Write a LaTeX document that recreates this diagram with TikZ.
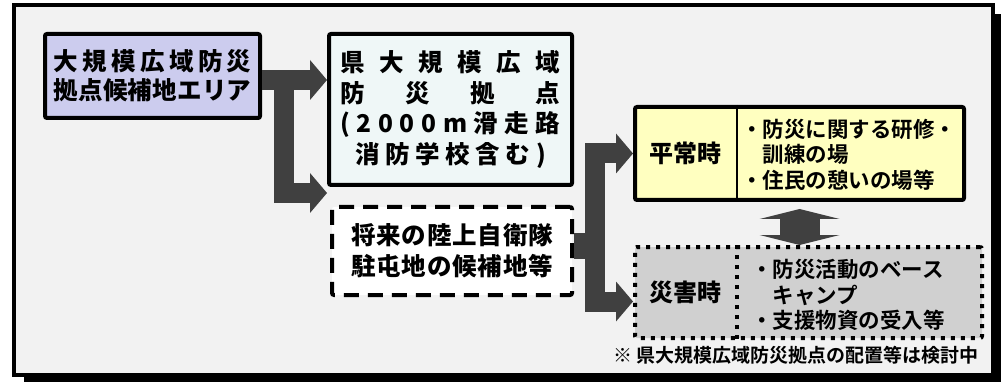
\documentclass[tikz,border=0pt]{standalone}
\usepackage{fontspec}
\usepackage{tikz}
\usetikzlibrary{arrows.meta,calc}
\newfontfamily\jpheavy{Noto Sans CJK JP Black}
\newfontfamily\jpbold{Noto Sans CJK JP Bold}
\definecolor{framebg}{HTML}{F2F2F2}
\definecolor{areafill}{HTML}{CCCCEE}
\definecolor{basefill}{HTML}{EFF7F7}
\definecolor{normfill}{HTML}{FFFFC0}
\definecolor{disfill}{HTML}{D0D0D0}
\definecolor{arrowgray}{HTML}{404040}

\begin{document}
\begin{tikzpicture}[x=1pt,y=-1pt,
  box/.style={draw,line width=4pt,rounded corners=2pt,inner sep=0pt},
  heavytext/.style={font=\jpheavy\fontsize{24.5}{29}\selectfont,align=center},
  label/.style={font=\jpheavy\fontsize{24}{28}\selectfont,minimum width=104pt,inner sep=0pt},
  list/.style={font=\jpbold\fontsize{21.5}{25.5}\selectfont,align=left,anchor=west,inner sep=0pt},
  dotline/.style={line width=4pt,dash pattern=on 4pt off 6pt},
  fat/.style={draw=arrowgray,line width=20pt,-{Triangle[length=17pt,width=40pt,line width=0pt]}},
  dbl/.style={draw=arrowgray,line width=40pt,{Triangle[length=10pt,width=80pt,line width=0pt]}-{Triangle[length=10pt,width=80pt,line width=0pt]}}]
  \useasboundingbox (0,0) rectangle (1001,382);
  \fill[black] (24,14) rectangle (1001,382);
  \draw[line width=4pt,fill=framebg] (14,5) rectangle (993,375);

  \node[box,fill=areafill,minimum width=215pt,minimum height=84pt,heavytext] (A) at (152.5,76)
    {\makebox[198pt][s]{大\hfill 規\hfill 模\hfill 広\hfill 域\hfill 防\hfill 災}\\
     \makebox[198pt][s]{拠\hfill 点\hfill 候\hfill 補\hfill 地\hfill エ\hfill リ\hfill ア}};
  \node[box,fill=basefill,minimum width=243pt,minimum height=151pt,heavytext,font=\jpheavy\fontsize{24.5}{30.5}\selectfont] (B) at (450.5,109.5)
    {\makebox[220pt][s]{県\hfill 大\hfill 規\hfill 模\hfill 広\hfill 域}\\
     \makebox[220pt][s]{防\hfill 災\hfill 拠\hfill 点}\\
     \makebox[220pt][s]{(\hfill 2\hfill 0\hfill 0\hfill 0\hfill m\hfill 滑\hfill 走\hfill 路}\\
     \makebox[191pt][s]{消\hfill 防\hfill 学\hfill 校\hfill 含\hfill む\hfill )}};
  \node[box,fill=white,dash pattern=on 15pt off 9pt,minimum width=240pt,minimum height=88pt,heavytext,font=\jpheavy\fontsize{24.5}{31}\selectfont] (C) at (452,251)
    {\makebox[202pt][s]{将\hfill 来\hfill の\hfill 陸\hfill 上\hfill 自\hfill 衛\hfill 隊}\\
     \makebox[202pt][s]{駐\hfill 屯\hfill 地\hfill の\hfill 候\hfill 補\hfill 地\hfill 等}};

  \node[box,fill=normfill,minimum width=329pt,minimum height=93pt] (D) at (799.5,153.5) {};
  \node[label] (Dl) at (685,153.5) {平常時};
  \node[list] (Dt) at (741,154.5) {・防災に関する研修・\\　訓練の場\\・住民の憩いの場等};
  \draw[line width=2.5pt] (D.north -| Dl.east) -- (D.south -| Dl.east);

  \node[box,fill=disfill,dotline,minimum width=347pt,minimum height=91pt] (E) at (808.5,292.5) {};
  \node[label] (El) at (685,292.5) {災害時};
  \node[list] (Et) at (751,295) {・防災活動のベース\\　キャンプ\\・支援物資の受入等};
  \draw[dotline] (E.north -| El.east) -- (E.south -| El.east);

  \node[font=\jpbold\fontsize{19}{20}\selectfont,anchor=east,inner sep=0pt] (N) at (979,355)
    {※ 県大規模広域防災拠点の配置等は検討中};

  \coordinate (a1) at ([yshift=-4pt]A.east);
  \draw[fat] (a1) -- (a1 -| B.west);
  \draw[fat] ($(a1)+(22,0)$) |- ([xshift=-3pt,yshift=12pt]C.north west);
  \coordinate (a3) at ($([yshift=5pt]C.east)+(21,0)$);
  \draw[draw=arrowgray,line width=26pt] ([yshift=5pt]C.east) -- (a3);
  \draw[fat] (a3) |- (D.west);
  \draw[fat] (a3) |- ([yshift=-9pt]E.west);
  \draw[dbl] ([yshift=-7pt]D.south) -- (D.south |- E.north);
\end{tikzpicture}
\end{document}
